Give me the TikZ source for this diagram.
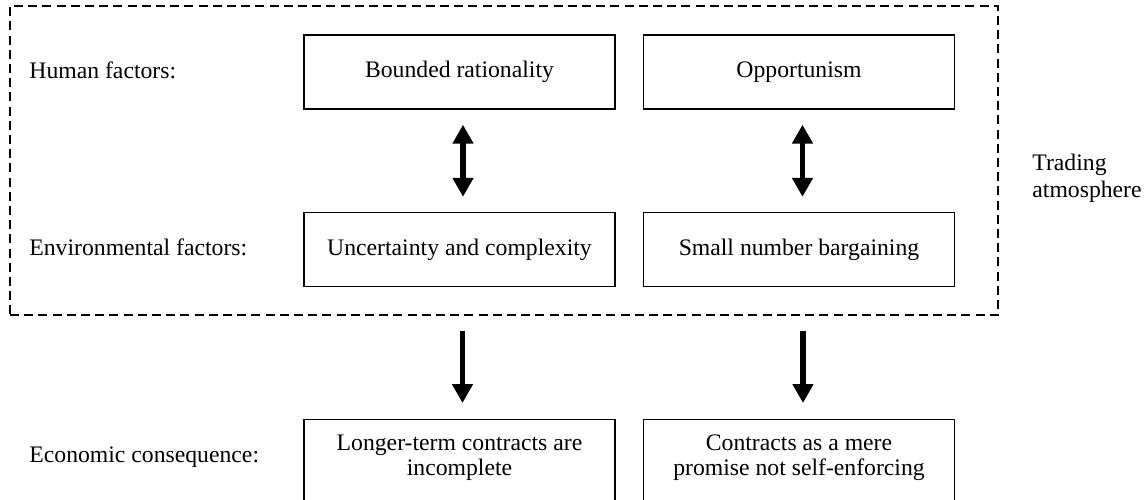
\documentclass[tikz,border=0pt]{standalone}
\usepackage{fontspec}
\setmainfont{Liberation Serif}
\usetikzlibrary{arrows.meta}
\begin{document}
\begin{tikzpicture}[x=0.5pt,y=-0.5pt,
  every node/.style={font=\fontsize{11.85}{13.6}\selectfont, inner sep=0pt},
  box/.style={draw, line width=0.7pt, minimum width=311*0.5pt, minimum height=74*0.5pt},
  atmbox/.style={draw, dashed, dash pattern=on 4.5pt off 2.6pt, line width=0.6pt, minimum width=988*0.5pt, minimum height=309*0.5pt},
  sidelabel/.style={anchor=base west},
  cons/.style={align=center, font=\fontsize{11.85}{12.3}\selectfont},
  bigarrow/.style={line width=2.8pt, -{Triangle[width=10pt,length=9.5pt]}},
  dblarrow/.style={line width=2.8pt, {Triangle[width=10pt,length=9.5pt]}-{Triangle[width=10pt,length=9.5pt]}}
]
\useasboundingbox (0,0) rectangle (1147,499);
\clip (0,0) rectangle (1147,499);

% trading atmosphere frame
\node[atmbox] (atm) at (504,160.5) {};
\node[align=left, anchor=west] (trad) at (1032,178) {Trading\\atmosphere};

% row labels
\node[sidelabel] (hum) at (29,78) {Human factors:};
\node[sidelabel] (env) at (29,255.5) {Environmental factors:};
\node[sidelabel] (eco) at (29,462) {Economic consequence:};

% boxes
\node[box] (b1) at (459.5,72) {Bounded rationality};
\node[box] (o1) at (799,72) {Opportunism};
\node[box] (u1) at (459.5,249.5) {Uncertainty and complexity};
\node[box] (s1) at (799,249.5) {Small number bargaining};

\node[box, anchor=north, minimum height=110*0.5pt] (c1) at (459.5,419) {};
\node[box, anchor=north, minimum height=110*0.5pt] (c2) at (799,419) {};
\node[cons] (c1t) at (459.5,458) {Longer-term contracts are\\incomplete};
\node[cons] (c2t) at (799,458) {Contracts as a mere\\promise not self-enforcing};

% arrows
\draw[dblarrow, shorten <=15*0.5pt, shorten >=15*0.5pt] ([xshift=1.75pt]b1.south) -- ([xshift=1.75pt]u1.north);
\draw[dblarrow, shorten <=15*0.5pt, shorten >=15*0.5pt] ([xshift=1.75pt]o1.south) -- ([xshift=1.75pt]s1.north);
\draw[bigarrow, shorten <=15*0.5pt, shorten >=16*0.5pt] ([xshift=1.5pt]c1.north |- atm.south) -- ([xshift=1.5pt]c1.north);
\draw[bigarrow, shorten <=15*0.5pt, shorten >=16*0.5pt] ([xshift=2pt]c2.north |- atm.south) -- ([xshift=2pt]c2.north);
\end{tikzpicture}
\end{document}
